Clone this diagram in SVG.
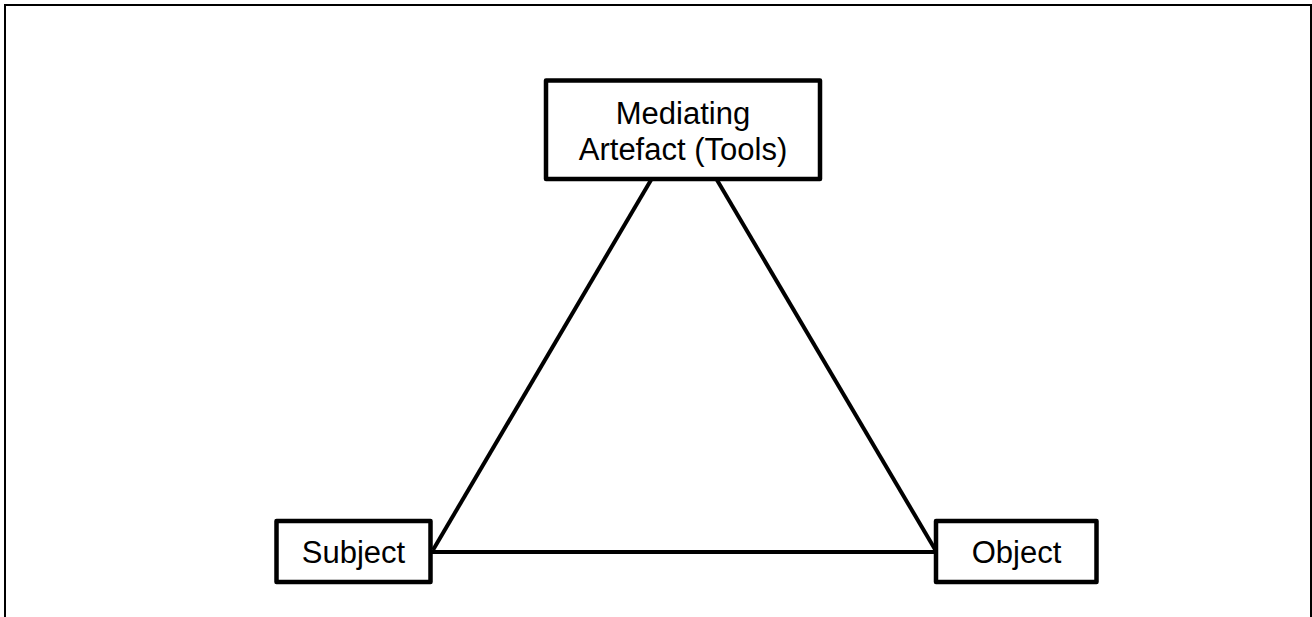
<svg xmlns="http://www.w3.org/2000/svg" width="1312" height="617" viewBox="0 0 1312 617">
  <style>
    .frame { fill: none; stroke: #000; stroke-width: 2; }
    .box { fill: #fff; stroke: #000; stroke-width: 4.5; stroke-linejoin: round; }
    .label { font-family: "Liberation Sans", Arial, sans-serif; font-size: 31px; fill: #000; text-anchor: middle; }
    .link { stroke: #000; stroke-width: 4; fill: none; }
  </style>
  <rect width="1312" height="617" fill="#fff"/>
  <!-- outer frame, bottom edge runs off the canvas -->
  <rect class="frame" x="5" y="5" width="1306" height="700"/>

  <g id="connectors">
    <line class="link" x1="651" y1="180" x2="433" y2="550"/>
    <line class="link" x1="717" y1="180" x2="936" y2="551"/>
    <line class="link" x1="431" y1="552" x2="936" y2="552"/>
  </g>

  <g id="node-tools">
    <rect class="box" x="546" y="80.5" width="274" height="98.5"/>
    <text class="label" x="683" y="123.5">Mediating</text>
    <text class="label" x="683" y="159.5">Artefact (Tools)</text>
  </g>

  <g id="node-subject">
    <rect class="box" x="276.5" y="521" width="154" height="61"/>
    <text class="label" x="353.5" y="562.7">Subject</text>
  </g>

  <g id="node-object">
    <rect class="box" x="936" y="521" width="160.5" height="61"/>
    <text class="label" x="1016.5" y="562.7">Object</text>
  </g>
</svg>
